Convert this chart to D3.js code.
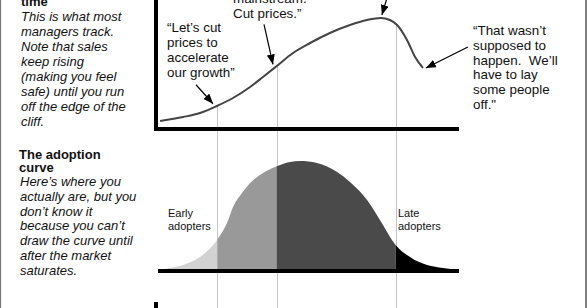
<!DOCTYPE html>
<html><head><meta charset="utf-8">
<script src="https://cdn.jsdelivr.net/npm/d3@7"></script>
<style>
body{margin:0;background:#fff}
svg{display:block;font-family:"Liberation Sans",Arial,sans-serif}
</style>
</head><body><svg id="c" width="587" height="308"></svg>
<script>
// ---- data ----
const salesTime  = [0.7, 8.4, 14, 19.6, 25, 30.7, 35, 39.6, 45, 50.7, 57.3, 64, 69.7, 74.3, 77.3, 79.7, 83, 85.7, 88.3];
const salesValue = [8, 12, 16, 23, 31, 42, 52, 63, 76, 86, 96, 104, 109, 111, 109, 104, 89, 72, 61];
const adoptTime  = [0, 4, 8.3, 14, 19.9, 23, 25, 28, 30.7, 35, 39, 44, 47.3, 53, 59.7, 64, 69.7, 75, 78.7, 84, 89.7, 95, 100];
const adoptValue = [0, 2, 5, 13, 31, 47, 63, 77, 87, 97, 103, 108, 109, 107, 98, 88, 70, 45, 27, 13, 5, 2, 0];
const phaseBreaks = [19.8, 39.5, 79.2];
const salesNotes = [
  ["\u201CLet\u2019s cut", "prices to", "accelerate", "our growth\u201D"],
  ["mainstream.", "Cut prices.\u201D"],
  ["\u201CThat wasn\u2019t", "supposed to", "happen.  We\u2019ll", "have to lay", "some people", "off.\""]
];
const noteTimes = [19, 39, 74.3, 88.3];
const adoptLabels = [["Early", "adopters"], ["Late", "adopters"]];
const sideTitles = [["time"], ["The adoption", "curve"]];
const sideTexts = [
  ["This is what most", "managers track.", "Note that sales", "keep rising", "(making you feel", "safe) until you run", "off the edge of the", "cliff."],
  ["Here\u2019s where you", "actually are, but you", "don\u2019t know it", "because you can\u2019t", "draw the curve until", "after the market", "saturates."]
];

// ---- styles ----
const phaseColors = ["#d2d2d2", "#999999", "#4a4a4a", "#000000"];

const svg = d3.select("#c");
const x = d3.scaleLinear().domain([0, 100]).range([158, 458]);
const yS = d3.scaleLinear().domain([0, 129]).range([129, 0]);
const yA = d3.scaleLinear().domain([0, 110]).range([270, 160]);
const salesAt = d3.scaleLinear().domain(salesTime).range(salesValue);

// borders
svg.append("line").attr("x1",0.5).attr("x2",0.5).attr("y1",0).attr("y2",308).attr("stroke","#777").attr("stroke-width",1.2);
svg.append("line").attr("x1",586).attr("x2",586).attr("y1",0).attr("y2",308).attr("stroke","#555").attr("stroke-width",1.5);

// gray guide lines
svg.selectAll("line.guide").data(phaseBreaks).join("line").attr("class","guide")
  .attr("x1", d => Math.round(x(d)) + 0.5).attr("x2", d => Math.round(x(d)) + 0.5)
  .attr("y1", d => yS(salesAt(d))).attr("y2", 308)
  .attr("stroke", "#c4c4c4").attr("stroke-width", 1);

// adoption curve fills
const adopt = adoptTime.map((t, i) => [t, adoptValue[i]]);
const area = d3.area().x(d => x(d[0])).y0(yA(0)).y1(d => yA(d[1])).curve(d3.curveMonotoneX);
const bounds = [0, ...phaseBreaks, 100];
const defs = svg.append("defs");
phaseColors.forEach((c, i) => {
  defs.append("clipPath").attr("id", "seg" + i).append("rect")
    .attr("x", x(bounds[i])).attr("width", x(bounds[i + 1]) - x(bounds[i]))
    .attr("y", 0).attr("height", 308);
  svg.append("path").datum(adopt).attr("d", area).attr("fill", c).attr("clip-path", "url(#seg" + i + ")");
});

// sales curve
const sales = salesTime.map((t, i) => [t, salesValue[i]]);
svg.append("path").datum(sales)
  .attr("d", d3.line().x(d => x(d[0])).y(d => yS(d[1])).curve(d3.curveMonotoneX))
  .attr("fill", "none").attr("stroke", "#444").attr("stroke-width", 2);

// axes frames
svg.append("line").attr("x1", 156).attr("x2", 156).attr("y1", -2).attr("y2", 131).attr("stroke", "#000").attr("stroke-width", 4);
svg.append("line").attr("x1", 154).attr("x2", x(100) + 1).attr("y1", 129).attr("y2", 129).attr("stroke", "#000").attr("stroke-width", 4);
svg.append("line").attr("x1", x(0)).attr("x2", x(100) + 1).attr("y1", 271).attr("y2", 271).attr("stroke", "#000").attr("stroke-width", 4);
svg.append("line").attr("x1", 156).attr("x2", 156).attr("y1", 302).attr("y2", 310).attr("stroke", "#000").attr("stroke-width", 4);

// arrows
defs.append("marker").attr("id", "ah").attr("viewBox", "0 0 10 8").attr("refX", 10).attr("refY", 4)
  .attr("markerWidth", 10).attr("markerHeight", 8).attr("markerUnits", "userSpaceOnUse").attr("orient", "auto")
  .append("path").attr("d", "M0,0L10,4L0,8Z").attr("fill", "#000");
const arrowTails = [[-17, -19], [-9, -40], [6, -20], [42, -21]];
const arrowGap = [[-2, -3], [-2, -3], [1, -3], [3, 0]];
noteTimes.forEach((t, i) => {
  const tx = x(t) + arrowGap[i][0], ty = yS(salesAt(t)) + arrowGap[i][1];
  svg.append("line").attr("x1", tx + arrowTails[i][0]).attr("y1", ty + arrowTails[i][1])
    .attr("x2", tx).attr("y2", ty).attr("stroke", "#000").attr("stroke-width", 1.2).attr("marker-end", "url(#ah)");
});

// text helper
function block(lines, x0, y0, lh, size, style) {
  const t = svg.append("text").attr("font-size", size).attr("fill", "#111").attr("xml:space", "preserve").style("white-space", "pre");
  if (style === "italic") t.attr("font-style", "italic");
  if (style === "bold") t.attr("font-weight", "bold");
  lines.forEach((l, i) => t.append("tspan").attr("x", x0).attr("y", y0 + i * lh).text(l));
}
block(salesNotes[0], 167, 32, 15, 13.4);
block(salesNotes[1], 233, 3, 15, 13.4);
block(salesNotes[2], 473, 35, 14.8, 13.4);
block(adoptLabels[0], 168, 217, 13, 11);
block(adoptLabels[1], 398, 217, 13, 11);
block(sideTitles[0], 21, 6, 15, 13, "bold");
block(sideTexts[0], 21, 21, 15, 13, "italic");
block(sideTitles[1], 19, 159, 13, 13, "bold");
block(sideTexts[1], 20, 186, 14.75, 13, "italic");
</script></body></html>
